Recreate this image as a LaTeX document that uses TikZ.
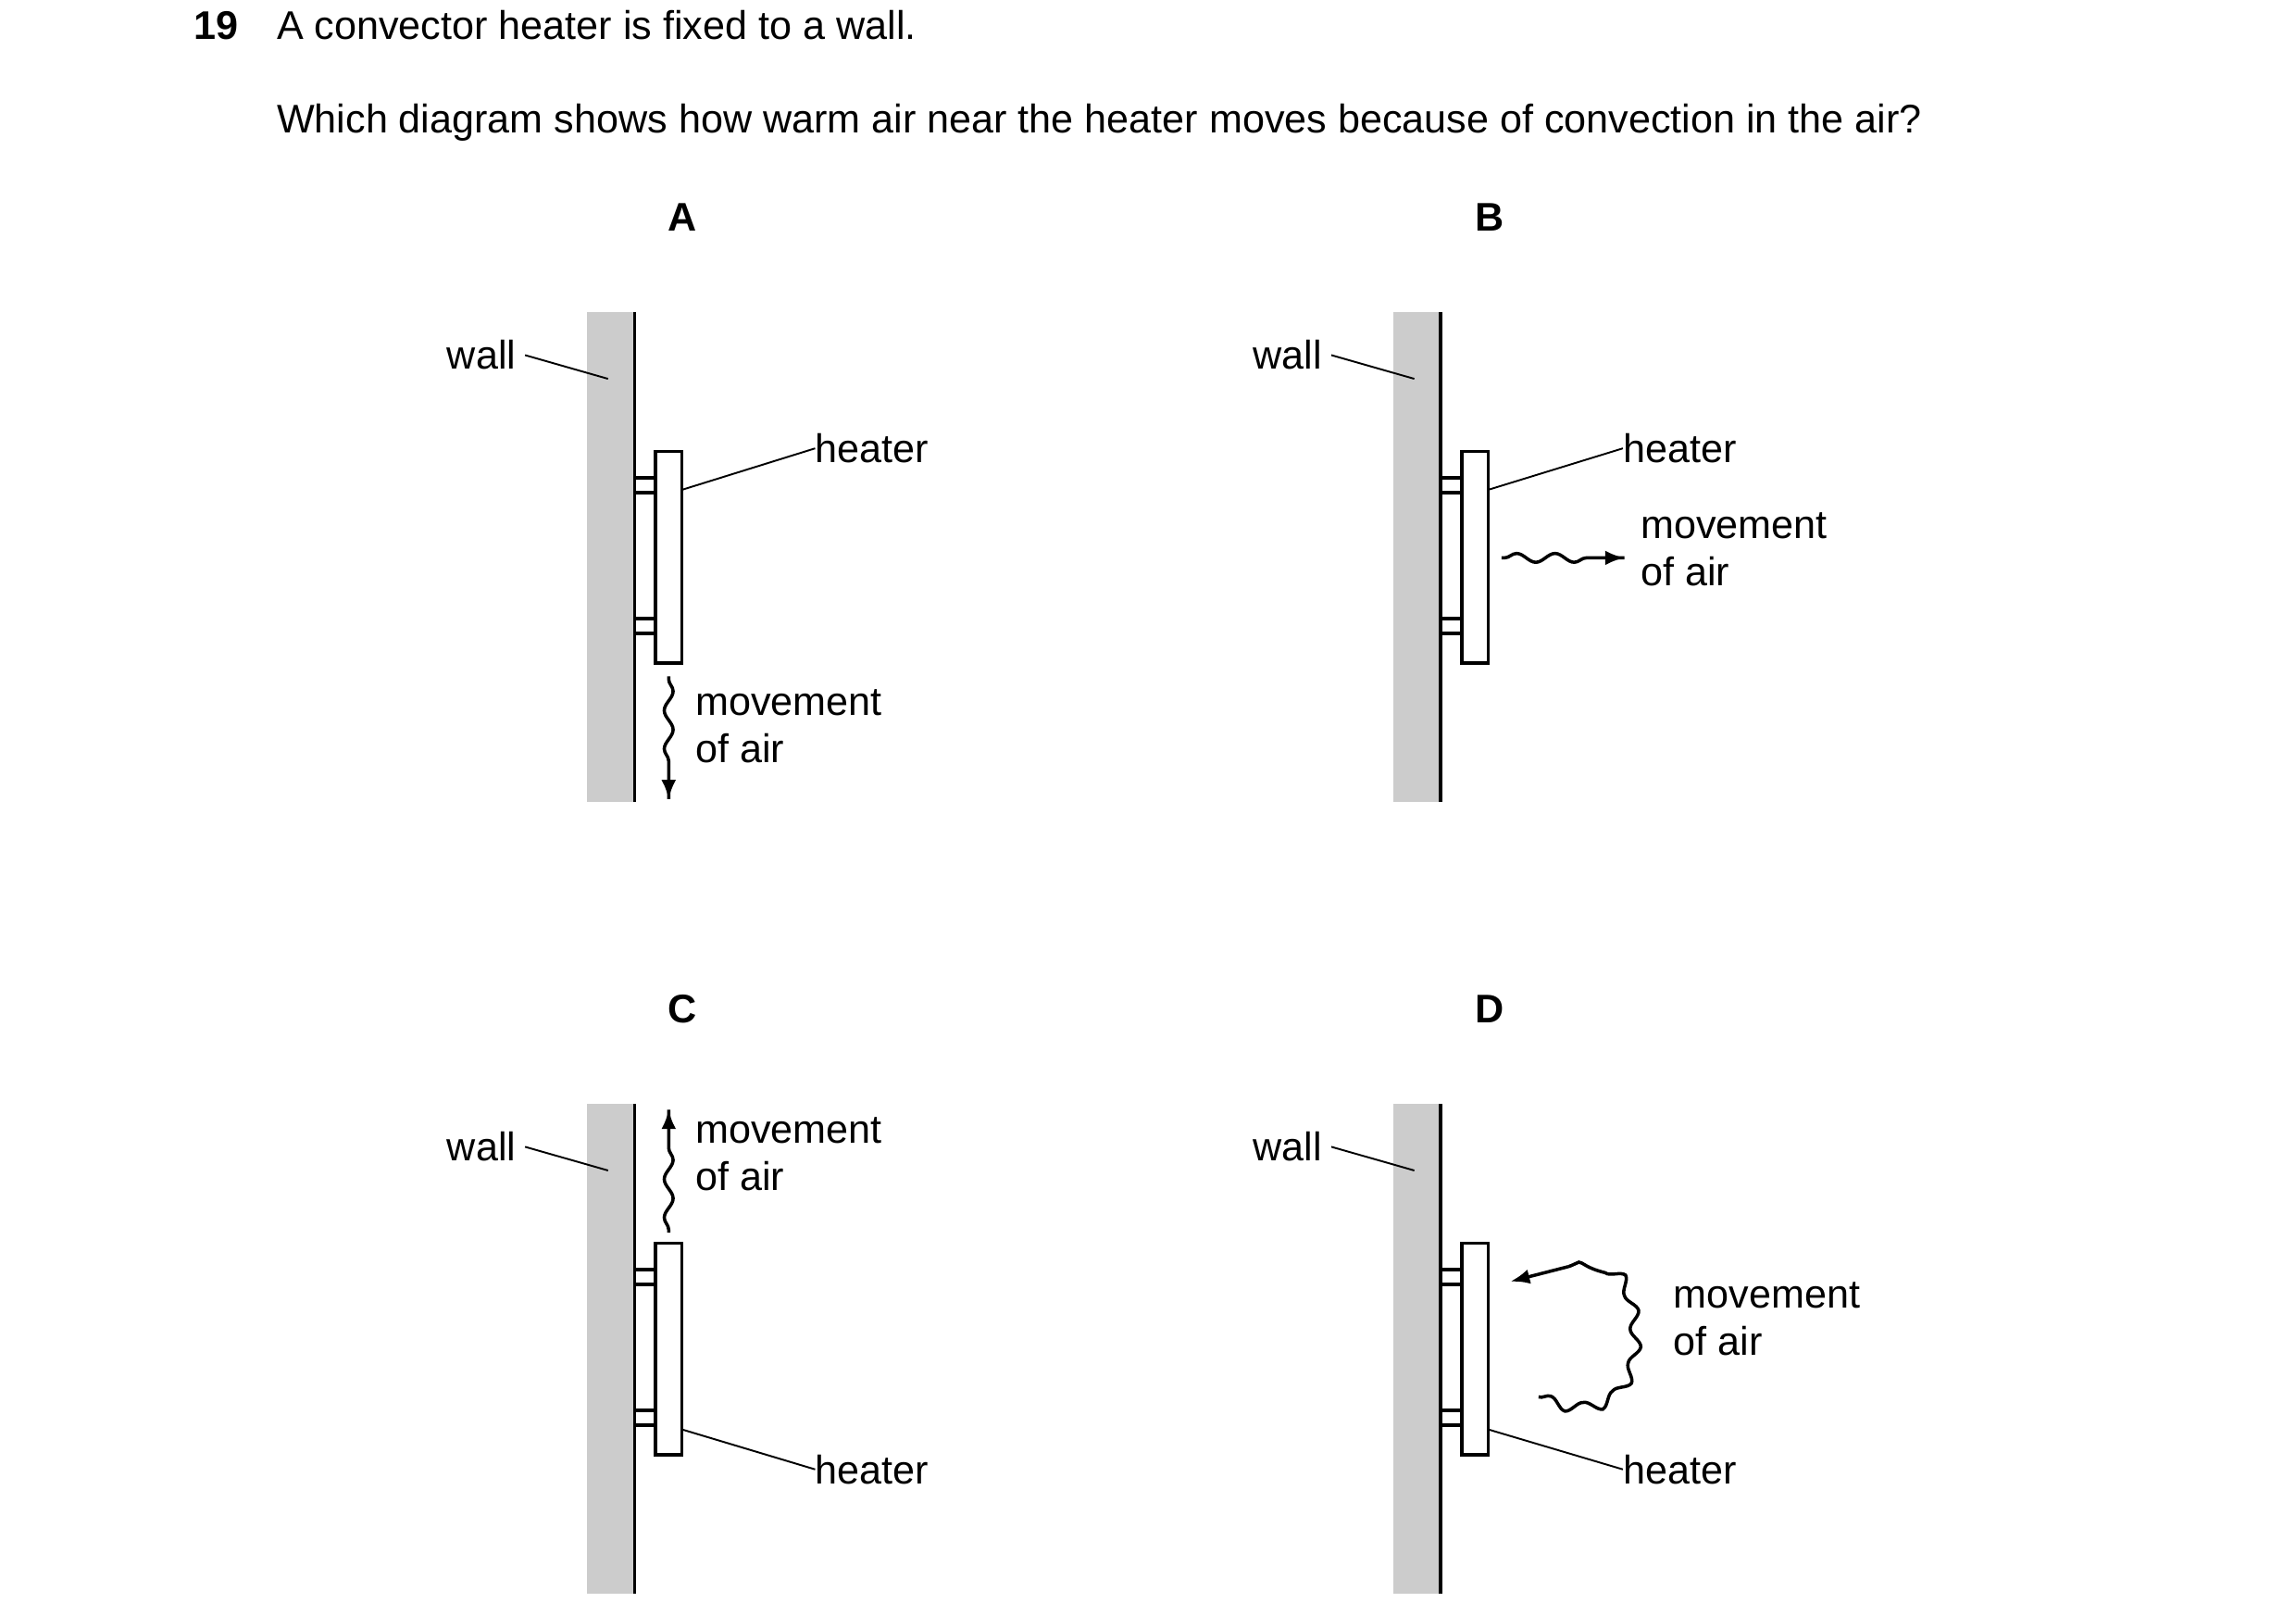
\documentclass[tikz,border=0pt]{standalone}
\usepackage{fontspec}
\setmainfont{Liberation Sans}
\usetikzlibrary{decorations.pathmorphing,arrows.meta}
\begin{document}
\fontsize{27}{32}\selectfont
\begin{tikzpicture}[x=1pt,y=-1pt,
  lbl/.style={inner sep=0pt,anchor=west},
  lead/.style={line width=1.2pt},
  wallfill/.style={fill=black!20,draw=none},
  wallline/.style={line width=2.4pt},
  box/.style={draw,line width=2.2pt,fill=white},
  wave/.style={line width=2.2pt,decorate,decoration={snake,segment length=26pt,amplitude=3pt,pre length=2pt,post length=14pt}},
  arr/.style={-{Latex[length=13pt,width=10pt]}}]
\useasboundingbox (0,0) rectangle (1552,1091);
\node[lbl,font=\bfseries] (num) at (131,17) {19};
\node[lbl] (q1) at (187,17) {A convector heater is fixed to a wall.};
\node[lbl] (q2) at (187,83) {Which diagram shows how warm air near the heater moves because of convection in the air?};
\node[font=\bfseries] (lA) at (461,147) {A};
\node[font=\bfseries] (lB) at (1007,147) {B};
\node[font=\bfseries] (lC) at (461,682) {C};
\node[font=\bfseries] (lD) at (1007,682) {D};
\foreach \n/\dx/\dy in {A/0/0,B/545/0,C/0/535,D/545/535}{
  \begin{scope}[shift={(\dx,\dy)}]
    \fill[wallfill] (397,211) rectangle (428,542);
    \draw[wallline] (429,211) -- (429,542);
    \draw[box] (429,323) rectangle (443,333);
    \draw[box] (429,418) rectangle (443,428);
    \draw[box] (443,305) rectangle (461,448);
    \node[lbl] (wall\n) at (302,240) {wall};
    \coordinate (wt\n) at (411,256);
    \draw[lead] (wall\n.east) ++(6pt,0) -- (wt\n);
  \end{scope}
}
% heater labels
\node[lbl] (hA) at (551,303) {heater};
\coordinate (hpA) at (461,331);
\draw[lead] (hA.west) -- (hpA);
\node[lbl] (hB) at (1097,303) {heater};
\coordinate (hpB) at (1006,331);
\draw[lead] (hB.west) -- (hpB);
\node[lbl] (hC) at (551,993) {heater};
\coordinate (hpC) at (461,966);
\draw[lead] (hC.west) -- (hpC);
\node[lbl] (hD) at (1097,993) {heater};
\coordinate (hpD) at (1006,966);
\draw[lead] (hD.west) -- (hpD);
% movement labels
\node[lbl,align=left,anchor=north west] (mA) at (470,466) {movement\\of air};
\node[lbl,align=left,anchor=north west] (mB) at (1109,346) {movement\\of air};
\node[lbl,align=left,anchor=north west] (mC) at (470,755) {movement\\of air};
\node[lbl,align=left,anchor=north west] (mD) at (1131,866) {movement\\of air};
% arrows
\coordinate (a0) at (452,457); \coordinate (a1) at (452,540);
\draw[wave] (a0) -- (a1); \draw[arr,line width=2.2pt] (452,520) -- (a1);
\coordinate (b0) at (1015,377); \coordinate (b1) at (1098,377);
\draw[wave] (b0) -- (b1); \draw[arr,line width=2.2pt] (1078,377) -- (b1);
\coordinate (c0) at (452,833); \coordinate (c1) at (452,750);
\draw[wave] (c0) -- (c1); \draw[arr,line width=2.2pt] (452,770) -- (c1);
\coordinate (d0) at (1040,944); \coordinate (d1) at (1021,866);
\draw[line width=2.2pt,decorate,decoration={snake,segment length=24pt,amplitude=3.5pt,post length=2pt}]
  (d0) .. controls (1080,960) and (1100,935) .. (1100,905)
  .. controls (1100,870) and (1090,845) .. (1060,856);
\draw[arr,line width=2.2pt] (1060,856) -- (d1);
\end{tikzpicture}
\end{document}
